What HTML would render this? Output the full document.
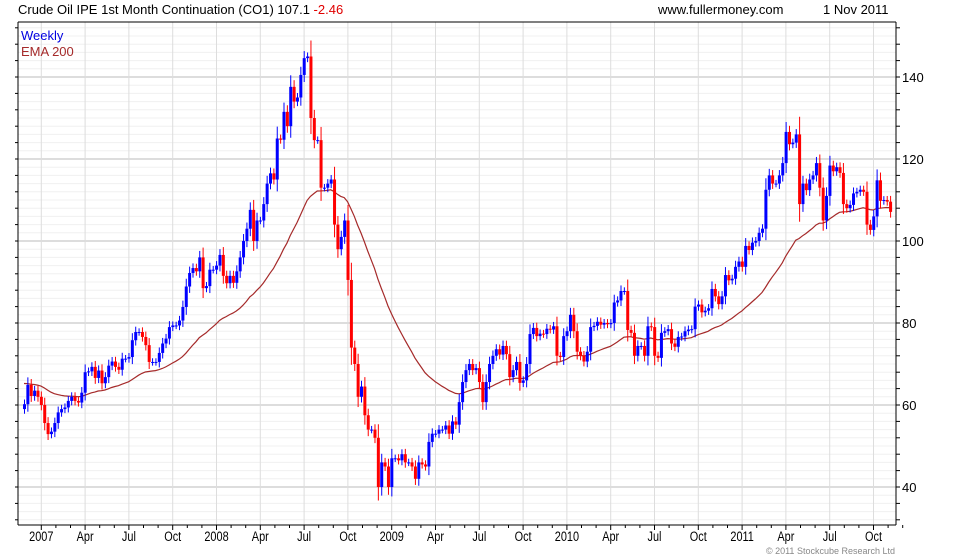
<!DOCTYPE html>
<html><head><meta charset="utf-8">
<style>
html,body{margin:0;padding:0;background:#fff;}
body{width:980px;height:560px;overflow:hidden;position:relative;font-family:"Liberation Sans",Arial,sans-serif;}
svg{position:absolute;left:0;top:0;}
</style></head>
<body>
<svg id="chart" width="980" height="560" viewBox="0 0 980 560" xmlns="http://www.w3.org/2000/svg">
  <text x="18" y="14" font-size="13" font-family="Liberation Sans, sans-serif" fill="#000">Crude Oil IPE 1st Month Continuation (CO1) 107.1 <tspan fill="#e00000">-2.46</tspan></text>
  <text x="658" y="14" font-size="13" font-family="Liberation Sans, sans-serif" fill="#000">www.fullermoney.com</text>
  <text x="823" y="14" font-size="13" font-family="Liberation Sans, sans-serif" fill="#000">1 Nov 2011</text>
  <g id="grid"></g>
  <g id="ema"></g>
  <g id="bars"></g>
  <g id="axes"></g>
  <text x="21" y="40" font-size="13" font-family="Liberation Sans, sans-serif" fill="#0000e0">Weekly</text>
  <text x="21" y="56" font-size="13" font-family="Liberation Sans, sans-serif" fill="#a52a2a">EMA 200</text>
  <text x="895" y="554" font-size="9" text-anchor="end" font-family="Liberation Sans Narrow, Liberation Sans, sans-serif" fill="#888">© 2011 Stockcube Research Ltd</text>
</svg>
<script>
// weekly closes, starting late Nov 2006
const closes = [
60.2,64.9,62.2,63.5,62,60,55.6,52.9,53.5,55.6,
58.2,59,59.4,61,62,61,60.6,63,68,68.2,
69.3,66.6,68.4,65.3,66.8,69.6,70.6,69.3,68.6,71.3,
71.3,71.7,75.8,77.8,77.8,76.6,74.6,70.5,70.5,70.5,
72.7,75,76.2,79,79.4,79.4,80.6,83.9,88.9,92.2,
93.4,92.6,96,88.5,89,93,93,94,96.6,91.5,
89.7,91.5,89.8,92.6,
96,100,103,107.6,100,105,105,109,114,116.5,
115,125,124.7,131.5,128,137.6,134,135,140.5,144.6,
145,130,124.6,124.6,113,113,114,115,104,98,
101,105,90.5,74,70,62,64.5,57.5,54,54,
52,40,46,45,40,47,47,46.5,48,46,
46,45,42,46,45.5,45,51,53,53,54,
54,55,53,56,55.2,60.7,65.6,68.5,70,68.5,
69,65.6,60.7,65.6,70,72,73.6,72.3,74.4,72.4,
66.8,68.5,70.5,65.4,66,70,77.3,78.8,76.8,77.4,
77.3,78.6,78.4,79.2,72,71.7,76.8,78,82,78,
73,72,70.6,73,79,79.3,80.3,79.6,80,79.7,
80,85,85.5,87.8,87.8,78.3,77.6,72,74.4,74.4,
72,79.2,79,72,71.5,77.6,78,78.5,
75,74.2,76.6,76.7,78,78.4,78.5,84,84.5,82.6,
83,83.6,88.3,86.5,84.6,86.5,91.7,90.4,90.8,93.7,
95,93.7,98.8,97.8,99.6,100,102,103,112.5,116,
114,114,116,119,126.6,123.6,124,126,109,114,
112.4,115,116,119,113,105,111,118.4,117,118,
116.6,109,108,108.8,111.6,112,112.5,112,104,102.7,
106,114.8,109.8,110,109.6,107.1
];
const firstOpen = 59;
const yTicks = [40,60,80,100,120,140];
const xLabels = ["2007","Apr","Jul","Oct","2008","Apr","Jul","Oct","2009","Apr","Jul","Oct","2010","Apr","Jul","Oct","2011","Apr","Jul","Oct"];

const NS = "http://www.w3.org/2000/svg";
const L = 18, R = 896, T = 22, B = 525;
function yScale(p){ return 77 + (140 - p) * 4.1; }
function xBar(i){ return 24 + i * 3.37; }
function xQuarter(q){ return 41.3 + q * 43.8; }
function mk(tag, attrs, parent){
  const e = document.createElementNS(NS, tag);
  for (const k in attrs) e.setAttribute(k, attrs[k]);
  parent.appendChild(e);
  return e;
}
const grid = document.getElementById('grid');
const axes = document.getElementById('axes');
const bars = document.getElementById('bars');
const emaG = document.getElementById('ema');

for (let p = 32; p <= 152; p += 2) {
  const y = yScale(p);
  const major = p % 20 === 0;
  const ln = mk('line', {x1:L, x2:R, y1:y, y2:y, stroke: major ? '#bbbbbb' : '#f0f0f0', 'stroke-width':1}, grid);
  
  
  if (p % 4 === 0) {
    mk('line', {x1:L-3, x2:L, y1:y, y2:y, stroke:'#000'}, axes);
    mk('line', {x1:R, x2:R+4, y1:y, y2:y, stroke:'#000'}, axes);
  }
}
xLabels.forEach((lab, q) => {
  const x = xQuarter(q);
  const ln = mk('line', {x1:x, x2:x, y1:T, y2:B, stroke:'#dddddd'}, grid);
  
  
  mk('line', {x1:x, x2:x, y1:B, y2:B+5, stroke:'#000'}, axes);
  for (let m = 1; m < 3; m++) {
    const xm = x + m * 14.6;
    mk('line', {x1:xm, x2:xm, y1:B, y2:B+3, stroke:'#000'}, axes);
  }
  const t = mk('text', {x:0, y:0, 'font-size':14, 'text-anchor':'middle', 'font-family':'Liberation Sans Narrow, Liberation Sans, sans-serif', fill:'#000', transform:'translate(' + x + ',541) scale(0.78,1)'}, axes);
  
  
  t.textContent = lab;
});
mk('line', {x1:L, x2:R, y1:T, y2:T, stroke:'#000'}, axes);
mk('line', {x1:L, x2:R, y1:B, y2:B, stroke:'#000'}, axes);
mk('line', {x1:L, x2:L, y1:T, y2:B, stroke:'#000'}, axes);
mk('line', {x1:R, x2:R, y1:T, y2:B, stroke:'#000'}, axes);
yTicks.forEach(p => {
  const t = mk('text', {x:R+6, y:yScale(p)+5, 'font-size':13, 'font-family':'Liberation Sans, sans-serif', fill:'#000'}, axes);
  
  
  t.textContent = p;
});
closes.forEach((c, i) => {
  const o = i === 0 ? firstOpen : closes[i-1];
  const up = c >= o;
  const col = up ? '#0000ff' : '#ff0000';
  const x = xBar(i);
  const ext = Math.abs(c - o) * 0.2 + 0.9;
  const hi = Math.max(o, c) + ext, lo = Math.min(o, c) - ext;
  const w = mk('line', {x1:x+0.5, x2:x+0.5, y1:yScale(hi), y2:yScale(lo), stroke:col, 'stroke-width':1}, bars);
  
  
  const yt = yScale(Math.max(o, c)), yb = yScale(Math.min(o, c));
  const r = mk('rect', {x:x-1, y:yt, width:3, height:Math.max(1, yb-yt), fill:col}, bars);
  
  
});
let e = 65.5; const pts = [];
const a = 2 / 41;
closes.forEach((c, i) => { e = e + a * (c - e); pts.push(xBar(i).toFixed(1) + ',' + yScale(e).toFixed(1)); });
const pl = mk('polyline', {points: pts.join(' '), fill:'none', stroke:'#a52a2a', 'stroke-width':1.2}, emaG);


</script>
</body></html>
